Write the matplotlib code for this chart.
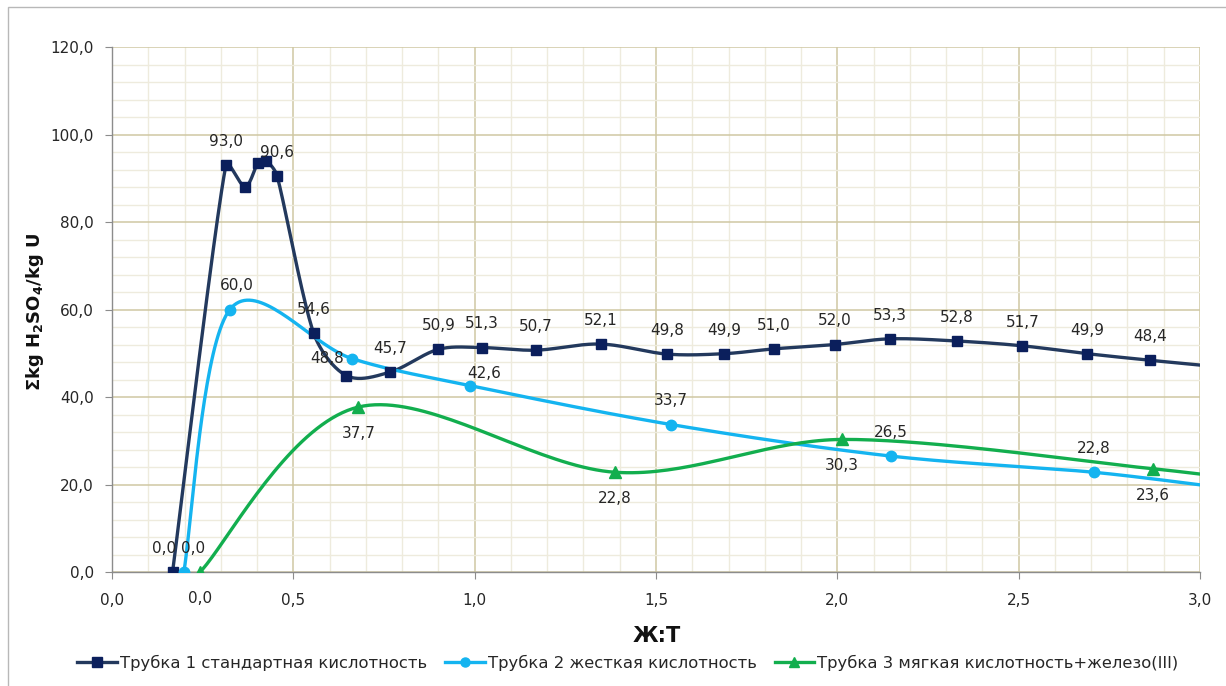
import numpy as np
import matplotlib
matplotlib.use("Agg")
import matplotlib.pyplot as plt
from matplotlib.ticker import MultipleLocator, FuncFormatter
from matplotlib.patches import Rectangle

# ---------------- data ----------------
tube1_x = [0.167, 0.314, 0.367, 0.403, 0.425, 0.455, 0.556, 0.646, 0.767, 0.900, 1.020,
           1.169, 1.347, 1.531, 1.688, 1.825, 1.993, 2.146, 2.329, 2.510, 2.689, 2.862, 3.05]
tube1_y = [0.0, 93.0, 88.1, 93.6, 94.0, 90.6, 54.6, 44.9, 45.7, 50.9, 51.3,
           50.7, 52.1, 49.8, 49.9, 51.0, 52.0, 53.3, 52.8, 51.7, 49.9, 48.4, 46.9]
tube1_lab = [True, True, False, False, False, True, True, False, True, True, True,
             True, True, True, True, True, True, True, True, True, True, True, False]

tube2_x = [0.198, 0.325, 0.661, 0.988, 1.542, 2.147, 2.707, 3.05]
tube2_y = [0.0, 60.0, 48.8, 42.6, 33.7, 26.5, 22.8, 19.4]
tube2_lab = [True, True, True, True, True, True, True, False]

tube3_x = [0.243, 0.679, 1.387, 2.013, 2.870, 3.05]
tube3_y = [0.0, 37.7, 22.8, 30.3, 23.6, 21.9]
tube3_lab = [True, True, True, True, True, False]

series_names = ["Трубка 1 стандартная кислотность",
                "Трубка 2 жесткая кислотность",
                "Трубка 3 мягкая кислотность+железо(III)"]

x_label = "Ж:Т"
y_label = r"Σkg H$_\mathbf{2}$SO$_\mathbf{4}$/kg U"

# ---------------- style ----------------
plt.rcParams['font.family'] = ['DejaVu Sans']
plt.rcParams['mathtext.fontset'] = 'dejavusans'

NAVY_LINE = '#23395D'
NAVY_MARK = '#0B1F5C'
BLUE = '#14B4F0'
GREEN = '#12AE4E'
TXT = '#262626'

X0, X1, Y0, Y1 = 0.0, 3.0, 0.0, 120.0
AX_L, AX_R, AX_T, AX_B = 112, 1200, 47, 572
SX = (AX_R - AX_L) / (X1 - X0)
SY = (AX_B - AX_T) / (Y1 - Y0)


def smooth(x, y, n=40):
    """Excel-like smoothed line: Catmull-Rom Bezier, handles limited to 1/3 of segment (pixel space)."""
    P = np.column_stack([np.asarray(x) * SX, np.asarray(y) * SY]).astype(float)
    E = np.vstack([P[0], P, P[-1]])
    out = []
    t = np.linspace(0, 1, n)[:, None]
    for i in range(len(P) - 1):
        p0, p1, p2, p3 = E[i], E[i + 1], E[i + 2], E[i + 3]
        L = np.hypot(*(p2 - p1))
        h1 = (p2 - p0) / 6.0
        h2 = (p3 - p1) / 6.0
        for h in (h1, h2):
            hl = np.hypot(*h)
            if hl > L / 3.0 and hl > 0:
                h *= (L / 3.0) / hl
        b1 = p1 + h1
        b2 = p2 - h2
        seg = ((1 - t) ** 3) * p1 + 3 * ((1 - t) ** 2) * t * b1 + 3 * (1 - t) * t ** 2 * b2 + t ** 3 * p2
        out.append(seg if i == 0 else seg[1:])
    S = np.vstack(out)
    return S[:, 0] / SX, S[:, 1] / SY


fig = plt.figure(figsize=(12.26, 6.86), dpi=100)
ax = fig.add_axes([AX_L / 1226, 1 - AX_B / 686, (AX_R - AX_L) / 1226, (AX_B - AX_T) / 686])

ax.set_xlim(X0, X1)
ax.set_ylim(Y0, Y1)

ax.xaxis.set_major_locator(MultipleLocator(0.5))
ax.xaxis.set_minor_locator(MultipleLocator(0.1))
ax.yaxis.set_major_locator(MultipleLocator(20))
ax.yaxis.set_minor_locator(MultipleLocator(4))
fmt = FuncFormatter(lambda v, p: f"{v:.1f}".replace('.', ','))
ax.xaxis.set_major_formatter(fmt)
ax.yaxis.set_major_formatter(fmt)

ax.grid(which='minor', color='#EEEBDD', lw=1.0, zorder=0)
ax.grid(which='major', color='#CFC7A3', lw=1.1, zorder=0)
ax.set_axisbelow(True)

for s in ['top', 'right']:
    ax.spines[s].set_visible(False)
for s in ['left', 'bottom']:
    ax.spines[s].set_color('#8C8C8C')
    ax.spines[s].set_linewidth(1.0)

ax.tick_params(which='minor', length=0)
ax.tick_params(axis='y', which='major', length=5, color='#8C8C8C', pad=8,
               labelsize=11, labelcolor=TXT)
ax.tick_params(axis='x', which='major', length=5, color='#8C8C8C', pad=10,
               labelsize=11, labelcolor=TXT)

series = [
    (tube1_x, tube1_y, NAVY_LINE, NAVY_MARK, 's', 7.5, series_names[0]),
    (tube2_x, tube2_y, BLUE, BLUE, 'o', 7.5, series_names[1]),
    (tube3_x, tube3_y, GREEN, GREEN, '^', 8, series_names[2]),
]

handles = []
for xs, ys, lc, mc, mk, ms, name in series:
    sx, sy = smooth(xs, ys)
    ax.plot(sx, sy, color=lc, lw=2.4, zorder=3, solid_capstyle='round')
    ax.plot(xs, ys, ls='none', marker=mk, ms=ms, color=mc, mec=mc, zorder=4)
    h, = ax.plot([], [], color=lc, lw=2.4, marker=mk, ms=ms - 1, mfc=mc, mec=mc, label=name)
    handles.append(h)

# data label placement (offsets in points)
above = (0, 17)
below = (0, -19)
t1_off = [above] * len(tube1_x)
t1_off[0] = (-6, 17)
t2_off = [above] * len(tube2_x)
t2_off[0] = (7, 17)
t2_off[1] = (5, 17)
t2_off[2] = (-18, 0)
t2_off[3] = (10, 9)
t3_off = [below] * len(tube3_x)

for xs, ys, labs, offs in [(tube1_x, tube1_y, tube1_lab, t1_off),
                           (tube2_x, tube2_y, tube2_lab, t2_off),
                           (tube3_x, tube3_y, tube3_lab, t3_off)]:
    for xv, yv, lb, off in zip(xs, ys, labs, offs):
        if not lb:
            continue
        ax.annotate(f"{yv:.1f}".replace('.', ','), (xv, yv), xytext=off,
                    textcoords='offset points', ha='center', va='center',
                    fontsize=11, color=TXT, zorder=5, annotation_clip=False)

fig.text(657 / 1226, 1 - 636 / 686, x_label, ha='center', va='center',
         fontsize=15, fontweight='bold', color='#111111')
fig.text(35 / 1226, 1 - 312 / 686, y_label, ha='center', va='center', rotation=90,
         fontsize=13, fontweight='bold', color='#111111')

fig.legend(handles=handles, loc='center', bbox_to_anchor=(628 / 1226, 1 - 663 / 686),
           ncol=3, frameon=False, fontsize=11.8, handlelength=2.4, handletextpad=0.2,
           columnspacing=1.1, labelcolor=TXT)

fig.add_artist(Rectangle((8 / 1226, -0.01), 1.5, 1.0, transform=fig.transFigure,
                         fill=False, ec='#B8B8B8', lw=1.0))

fig.savefig('out.png', dpi=100)
